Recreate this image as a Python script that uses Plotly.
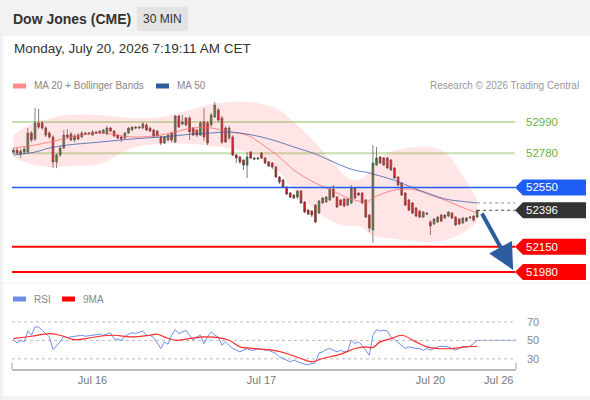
import plotly.graph_objects as go

# Dow Jones (CME), 30 min candles
opens = [52788, 52801, 52775, 52788, 52788, 52916, 52876, 52983, 52983, 52950,
         52916, 52889, 52721, 52768, 52815, 52902, 52909, 52869, 52902, 52889,
         52916, 52909, 52902, 52923, 52916, 52916, 52909, 52950, 52929, 52902,
         52889, 52882, 52916, 52936, 52956, 52950, 52950, 52970, 52950, 52936,
         52929, 52889, 52849, 52869, 52916, 52855, 53030, 52977, 53017, 53017,
         52950, 52936, 52902, 52990, 52983, 52970, 53024, 53071, 53017, 52950,
         52882, 52889, 52768, 52754, 52734, 52700, 52788, 52748, 52741, 52781,
         52748, 52721, 52714, 52687, 52620, 52600, 52552, 52512, 52498, 52485,
         52525, 52451, 52397, 52391, 52431, 52377, 52445, 52451, 52465, 52539,
         52485, 52465, 52472, 52431, 52445, 52546, 52512, 52512, 52465, 52364,
         52263, 52700, 52754, 52748, 52748, 52734, 52680, 52620, 52579, 52512,
         52465, 52445, 52411, 52391, 52350, 52377, 52317, 52303, 52317, 52364,
         52344, 52357, 52377, 52350, 52337, 52310, 52323, 52344, 52357, 52350]
highs = [52815, 52815, 52808, 52822, 52950, 52929, 53084, 53078, 52997, 52963,
         52929, 52902, 52781, 52828, 52936, 52943, 52923, 52909, 52916, 52929,
         52923, 52923, 52936, 52929, 52936, 52943, 52963, 52956, 52936, 52909,
         52896, 52923, 52956, 52963, 52963, 52963, 52990, 52983, 52956, 52943,
         52936, 52896, 52896, 52909, 52923, 53037, 53037, 53037, 53024, 53030,
         52956, 52943, 52997, 53084, 52997, 53051, 53125, 53084, 53030, 52963,
         52963, 52902, 52775, 52761, 52741, 52788, 52795, 52754, 52754, 52788,
         52754, 52727, 52721, 52694, 52626, 52606, 52559, 52519, 52505, 52532,
         52532, 52458, 52404, 52397, 52438, 52465, 52485, 52492, 52552, 52566,
         52492, 52472, 52478, 52478, 52566, 52552, 52519, 52519, 52472, 52370,
         52835, 52822, 52761, 52754, 52754, 52741, 52687, 52626, 52586, 52519,
         52472, 52451, 52418, 52397, 52391, 52384, 52330, 52344, 52357, 52370,
         52370, 52391, 52384, 52357, 52344, 52350, 52350, 52357, 52364, 52397]
lows = [52775, 52768, 52748, 52775, 52775, 52855, 52862, 52943, 52936, 52889,
        52876, 52680, 52680, 52754, 52808, 52876, 52862, 52855, 52869, 52882,
        52902, 52902, 52896, 52909, 52909, 52909, 52902, 52923, 52889, 52876,
        52855, 52876, 52909, 52929, 52943, 52943, 52943, 52929, 52923, 52882,
        52889, 52835, 52842, 52862, 52855, 52849, 52950, 52970, 52963, 52869,
        52896, 52889, 52896, 52862, 52835, 52956, 53017, 52990, 52842, 52849,
        52869, 52761, 52714, 52707, 52667, 52613, 52741, 52734, 52734, 52741,
        52707, 52687, 52673, 52613, 52573, 52546, 52498, 52478, 52472, 52472,
        52438, 52377, 52364, 52350, 52310, 52370, 52438, 52445, 52458, 52478,
        52411, 52424, 52418, 52424, 52438, 52472, 52492, 52438, 52344, 52249,
        52175, 52694, 52707, 52694, 52673, 52660, 52606, 52559, 52492, 52424,
        52391, 52370, 52350, 52344, 52344, 52364, 52229, 52297, 52310, 52317,
        52337, 52350, 52337, 52290, 52297, 52303, 52317, 52337, 52317, 52344]
closes = [52801, 52781, 52795, 52808, 52916, 52869, 52983, 52956, 52950, 52902,
          52889, 52721, 52768, 52815, 52902, 52889, 52869, 52896, 52876, 52916,
          52909, 52916, 52923, 52916, 52929, 52936, 52950, 52929, 52896, 52882,
          52876, 52916, 52950, 52956, 52950, 52956, 52977, 52936, 52929, 52896,
          52896, 52849, 52889, 52902, 52869, 53030, 52956, 52990, 52970, 52923,
          52902, 52902, 52983, 52889, 52849, 53037, 53104, 53003, 52855, 52855,
          52950, 52768, 52748, 52721, 52700, 52754, 52748, 52741, 52748, 52748,
          52714, 52694, 52687, 52620, 52586, 52552, 52505, 52485, 52478, 52525,
          52445, 52384, 52370, 52364, 52317, 52458, 52478, 52485, 52539, 52485,
          52418, 52431, 52424, 52472, 52546, 52478, 52498, 52445, 52350, 52276,
          52714, 52748, 52714, 52700, 52680, 52667, 52613, 52566, 52498, 52431,
          52397, 52377, 52357, 52350, 52384, 52370, 52290, 52337, 52350, 52323,
          52364, 52384, 52344, 52297, 52303, 52344, 52344, 52350, 52330, 52396]

# indicator lines, sampled at these candle positions
band_idx = [0, 6, 10, 15, 24, 33, 41, 50, 55, 60, 65, 69, 74, 78, 84, 89, 93, 96, 98,
            100, 104, 108, 112, 116, 120, 124, 129]
bb_upper = [52902, 52990, 53010, 53037, 53037, 53017, 53024, 53078, 53111, 53125, 53125,
            53111, 53071, 52990, 52849, 52714, 52613, 52600, 52626, 52680, 52781, 52808,
            52822, 52822, 52788, 52667, 52465]
bb_lower = [52748, 52700, 52687, 52694, 52707, 52815, 52842, 52842, 52828, 52815, 52788,
            52748, 52653, 52532, 52397, 52317, 52290, 52290, 52263, 52222, 52209, 52196,
            52189, 52182, 52196, 52229, 52317]
ma20 = [52815, 52835, 52855, 52882, 52916, 52889, 52902, 52950, 52950, 52923, 52902,
        52842, 52754, 52667, 52579, 52525, 52478, 52458, 52445, 52478, 52519, 52539,
        52532, 52498, 52465, 52424, 52377]
ma50 = [52768, 52788, 52815, 52835, 52855, 52876, 52889, 52909, 52916, 52923, 52909,
        52889, 52855, 52822, 52775, 52721, 52680, 52660, 52653, 52640, 52613, 52579,
        52539, 52505, 52472, 52458, 52445]

rsi_idx = [0, 1, 2, 3, 4, 5, 6, 7, 8, 9, 10, 11, 12, 13, 14, 15, 16, 17, 19, 20, 22, 24,
           25, 27, 28, 29, 30, 31, 33, 34, 36, 37, 38, 39, 40, 41, 42, 43, 44, 45, 46, 47,
           48, 49, 50, 51, 52, 53, 54, 55, 56, 57, 58, 59, 61, 62, 63, 65, 66, 67, 68, 70,
           71, 73, 74, 76, 77, 78, 80, 81, 82, 83, 84, 85, 86, 87, 88, 90, 91, 92, 93, 94,
           95, 96, 97, 98, 99, 100, 101, 102, 103, 104, 105, 106, 107, 108, 109, 110, 112,
           113, 114, 115, 116, 117, 118, 119, 120, 121, 122, 123, 124, 125, 126, 127, 128, 129]
rsi = [50.9, 47.3, 50.2, 48.4, 60.3, 55.6, 64.6, 64.6, 61.0, 57.4, 53.8, 40.1, 44.8, 48.4,
       54.5, 53.1, 53.8, 54.5, 55.6, 54.5, 55.6, 56.7, 55.6, 58.1, 52.0, 50.9, 50.2, 54.5,
       58.5, 57.4, 60.3, 55.6, 55.6, 53.1, 46.6, 41.2, 48.4, 45.9, 55.6, 61.7, 57.4, 59.2,
       61.0, 55.6, 50.2, 53.8, 55.6, 46.6, 53.8, 59.2, 55.6, 53.8, 44.8, 48.4, 41.2, 39.4,
       37.6, 41.2, 39.4, 39.4, 41.2, 39.4, 39.4, 35.8, 32.2, 28.6, 26.8, 28.6, 25.7, 24.2,
       23.9, 25.0, 25.7, 36.5, 37.6, 40.1, 41.2, 37.6, 39.4, 37.6, 38.6, 50.2, 46.6, 48.4,
       44.8, 39.4, 34.0, 55.6, 61.7, 60.3, 61.0, 60.3, 53.8, 50.9, 47.3, 44.8, 41.2, 43.0,
       41.2, 41.2, 39.4, 41.2, 39.4, 41.2, 43.0, 43.7, 43.0, 43.0, 41.2, 39.4, 41.2, 43.7,
       43.0, 43.7, 46.6, 50.2]
rsi_ma_idx = [0, 5, 10, 13, 17, 20, 24, 28, 33, 38, 40, 42, 45, 49, 53, 57, 60, 63, 67, 72,
              76, 80, 83, 86, 91, 95, 98, 100, 102, 105, 108, 112, 115, 118, 122, 126, 129]
rsi_ma = [52.0, 54.5, 57.4, 55.6, 50.9, 52.0, 54.5, 55.6, 53.8, 55.6, 56.7, 53.8, 50.2, 52.0,
          53.8, 53.1, 50.2, 43.0, 41.2, 39.4, 35.8, 30.4, 26.8, 30.4, 35.1, 41.2, 43.0, 42.3,
          48.4, 52.0, 55.6, 48.4, 43.0, 41.2, 41.2, 43.0, 43.7]
rsi_levels = [70, 50, 30]

resistances = [52990, 52780]
pivot = 52550
supports = [52150, 51980]
last_price = 52396

tick_idx = [22, 69, 116, 135]
tick_text = ["Jul 16", "Jul 17", "Jul 20", "Jul 26"]

FONT = "Liberation Sans, Arial, sans-serif"
W, H = 590, 400


def px(x):
    return x / W


def py(y):
    return 1 - y / H


def label(x, y, text, color, size, anchor="left", xref="paper", yref="paper"):
    return dict(x=x, y=y, xref=xref, yref=yref, text=text, showarrow=False,
                xanchor=anchor, yanchor="middle", font=dict(color=color, size=size))


X_LEFT, X_RIGHT = px(12), px(516)
candle_x = list(range(len(closes)))
x_range = [-0.4, 139.8]

fig = go.Figure()

fig.add_trace(go.Scatter(x=band_idx, y=bb_upper, mode="lines", line=dict(width=0, shape="spline"),
                         hoverinfo="skip", showlegend=False))
fig.add_trace(go.Scatter(x=band_idx, y=bb_lower, mode="lines", line=dict(width=0, shape="spline"),
                         fill="tonexty", fillcolor="rgba(255,110,110,0.18)",
                         hoverinfo="skip", showlegend=False))
fig.add_trace(go.Scatter(x=band_idx, y=ma20, mode="lines",
                         line=dict(color="rgba(255,100,100,0.75)", width=1, shape="spline"),
                         showlegend=False))
fig.add_trace(go.Scatter(x=band_idx, y=ma50, mode="lines",
                         line=dict(color="rgba(50,90,170,0.75)", width=1, shape="spline"),
                         showlegend=False))
fig.add_trace(go.Candlestick(
    x=candle_x, open=opens, high=highs, low=lows, close=closes,
    increasing=dict(fillcolor="#2f8a2f", line=dict(color="#4a4a4a", width=0.7)),
    decreasing=dict(fillcolor="#e3161b", line=dict(color="#5a3a3a", width=0.7)),
    whiskerwidth=0, showlegend=False))

# dotted extensions at the right end
fig.add_trace(go.Scatter(x=[band_idx[-1], 139.5], y=[ma50[-1], ma50[-1]], mode="lines",
                         line=dict(color="#8a8fa0", width=1, dash="dot"), showlegend=False))
fig.add_trace(go.Scatter(x=[candle_x[-1], 139.5], y=[last_price, last_price], mode="lines",
                         line=dict(color="#444444", width=1, dash="dot"), showlegend=False))

# RSI panel
fig.add_trace(go.Scatter(x=rsi_idx, y=rsi, mode="lines", xaxis="x2", yaxis="y2",
                         line=dict(color="#6f8fe6", width=1), showlegend=False))
fig.add_trace(go.Scatter(x=rsi_ma_idx, y=rsi_ma, mode="lines", xaxis="x2", yaxis="y2",
                         line=dict(color="#ff2a2a", width=1.2, shape="spline"), showlegend=False))
fig.add_trace(go.Scatter(x=[rsi_idx[-1], 139.8], y=[rsi[-1], rsi[-1]], mode="lines",
                         xaxis="x2", yaxis="y2",
                         line=dict(color="#6f8fe6", width=1, dash="dot"), showlegend=False))

shapes = [
    # white panel under the header
    dict(type="rect", xref="paper", yref="paper", x0=px(3), x1=1, y0=py(396), y1=py(36),
         fillcolor="white", line=dict(width=0), layer="below"),
    # 30 MIN badge
    dict(type="rect", xref="paper", yref="paper", x0=px(137), x1=px(188), y0=py(31), y1=py(7),
         fillcolor="#e3e3e3", line=dict(width=0), layer="below"),
    # panel separator
    dict(type="line", xref="paper", yref="paper", x0=px(3), x1=1, y0=py(283), y1=py(283),
         line=dict(color="#eeeeee", width=1), layer="below"),
]
annotations = []

for lvl in resistances:
    shapes.append(dict(type="line", xref="paper", yref="y", x0=X_LEFT, x1=px(515), y0=lvl, y1=lvl,
                       line=dict(color="#c3e0ad", width=2), layer="below"))
    annotations.append(label(px(524), lvl, str(lvl), "#6ab23a", 11.5, yref="y"))

tags = [(pivot, "#1e5ef5", "#1e5ef5", 1.5), (last_price, "#333333", None, 0),
        (supports[0], "#ff0000", "#ff0000", 2), (supports[1], "#ff0000", "#ff0000", 2)]
for lvl, col, line_col, lw in tags:
    if line_col:
        shapes.append(dict(type="line", xref="paper", yref="y", x0=X_LEFT, x1=px(515),
                           y0=lvl, y1=lvl, line=dict(color=line_col, width=lw)))
    shapes.append(dict(type="path", xref="paper", yref="y", xsizemode="pixel", ysizemode="pixel",
                       xanchor=px(515), yanchor=lvl,
                       path="M 0,0 L 8,8 L 71,8 L 71,-8 L 8,-8 Z",
                       fillcolor=col, line=dict(width=0)))
    annotations.append(label(px(524), lvl, str(lvl), "white", 11.5, yref="y"))

# expected path arrow
annotations.append(dict(x=139, y=51994, xref="x", yref="y", ax=-32, ay=-58, text="",
                        showarrow=True, arrowhead=2, arrowsize=1.3, arrowwidth=4,
                        arrowcolor="#2d5c9f", standoff=0))

for lvl in rsi_levels:
    shapes.append(dict(type="line", xref="paper", yref="y2", x0=X_LEFT, x1=X_RIGHT, y0=lvl, y1=lvl,
                       line=dict(color="#bbbbbb", width=1, dash="dot"), layer="below"))
    annotations.append(label(px(525), lvl, str(lvl), "#888888", 11, yref="y2"))

# bottom axis end ticks
for xe in (X_LEFT, X_RIGHT):
    shapes.append(dict(type="line", xref="paper", yref="paper", x0=xe, x1=xe, y0=py(369), y1=py(363),
                       line=dict(color="#bbbbbb", width=1.5)))

# legends
for x0, col, text, y in [(13, "#ff8a8a", "MA 20 + Bollinger Bands", 86), (156, "#2f5c9f", "MA 50", 86),
                         (13, "#6f8fe6", "RSI", 299), (62, "#ff0000", "9MA", 299)]:
    shapes.append(dict(type="rect", xref="paper", yref="paper", x0=px(x0), x1=px(x0 + 13),
                       y0=py(y + 2.5), y1=py(y - 2.5), fillcolor=col, line=dict(width=0)))
    annotations.append(label(px(x0 + 19), py(y), text, "#888888", 10))

annotations += [
    label(px(11), py(19), "<b>Dow Jones (CME)</b>", "#333333", 14),
    label(px(162.5), py(19), "30 MIN", "#333333", 12, anchor="center"),
    label(px(12), py(48), "Monday, July 20, 2026 7:19:11 AM CET", "#333333", 13.5),
    label(px(581), py(86), "Research \u00a9 2026 Trading Central", "#999999", 10, anchor="right"),
]

fig.update_layout(
    width=W, height=H, margin=dict(l=0, r=0, t=0, b=0),
    paper_bgcolor="#f2f2f2", plot_bgcolor="rgba(0,0,0,0)",
    font=dict(family=FONT), showlegend=False,
    shapes=shapes, annotations=annotations,
    xaxis=dict(domain=[X_LEFT, X_RIGHT], range=x_range, anchor="y", showgrid=False,
               zeroline=False, showticklabels=False, rangeslider=dict(visible=False), fixedrange=True),
    yaxis=dict(domain=[py(282), py(95)], range=[51913, 53172], showgrid=False, zeroline=False,
               showticklabels=False, fixedrange=True),
    xaxis2=dict(domain=[X_LEFT, X_RIGHT], range=x_range, anchor="y2", showgrid=False,
                zeroline=False, showline=True, linecolor="#bbbbbb", linewidth=2,
                tickvals=tick_idx, ticktext=tick_text, ticks="",
                tickfont=dict(color="#777777", size=11)),
    yaxis2=dict(domain=[py(369), py(310)], range=[19, 83], showgrid=False, zeroline=False,
                showticklabels=False),
)

fig.write_html("out.html", config={"displayModeBar": False},
               post_script="document.body.style.margin='0';")
